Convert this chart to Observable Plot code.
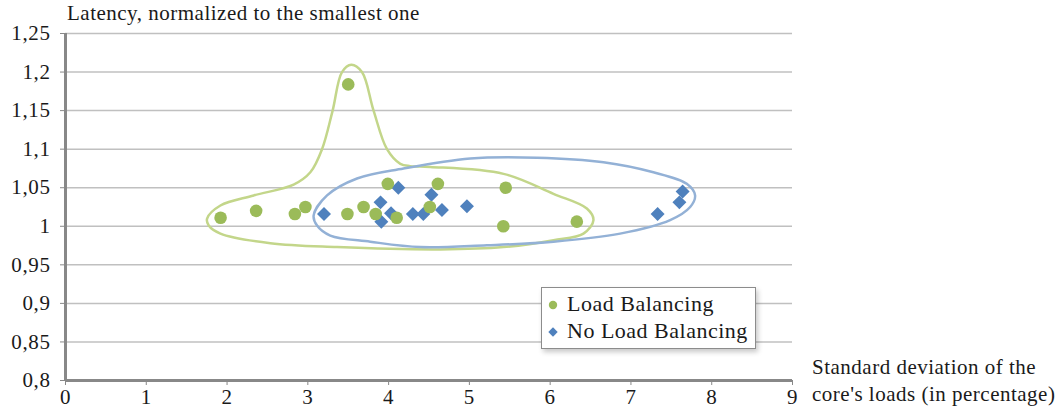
<!DOCTYPE html>
<html>
<head>
<meta charset="utf-8">
<script src="https://cdn.jsdelivr.net/npm/d3@7"></script>
<script src="https://cdn.jsdelivr.net/npm/@observablehq/plot@0.6"></script>
<style>
  body { margin: 0; background: #fff; }
  #wrap { position: relative; width: 1064px; height: 411px; font-family: "Liberation Serif", serif; color: #1a1a1a; }
  .t { position: absolute; font-size: 21px; line-height: 21px; letter-spacing: 0.5px; white-space: nowrap; }
  .legend { position: absolute; left: 541px; top: 287px; width: 215px; height: 62px; background: #fff;
            border: 1px solid #8c8c8c; box-shadow: 2px 3px 5px rgba(0,0,0,0.22); box-sizing: border-box; }
  .legend .item { position: absolute; left: 25px; font-size: 22px; line-height: 22px; letter-spacing: 0.5px; white-space: nowrap; }
  .legend svg { position: absolute; left: 3px; }
</style>
</head>
<body>
<div id="wrap"></div>
<script>
// ---- data ----
const xTicks = [0, 1, 2, 3, 4, 5, 6, 7, 8, 9];
const yTicks = [0.8, 0.85, 0.9, 0.95, 1, 1.05, 1.1, 1.15, 1.2, 1.25];
const yTickLabels = ["0,8", "0,85", "0,9", "0,95", "1", "1,05", "1,1", "1,15", "1,2", "1,25"];

const seriesNames = ["Load Balancing", "No Load Balancing"];

const lbX = [1.92, 2.36, 2.84, 2.97, 3.50, 3.49, 3.69, 3.84, 3.99, 4.10, 4.51, 4.61, 5.45, 5.42, 6.33];
const lbY = [1.011, 1.020, 1.016, 1.025, 1.184, 1.016, 1.025, 1.016, 1.055, 1.011, 1.025, 1.055, 1.050, 1.000, 1.006];

const nlbX = [3.20, 3.90, 3.91, 4.03, 4.12, 4.30, 4.43, 4.53, 4.66, 4.97, 7.33, 7.60, 7.64];
const nlbY = [1.016, 1.031, 1.006, 1.017, 1.050, 1.016, 1.016, 1.041, 1.021, 1.026, 1.016, 1.031, 1.045];

// hand-drawn annotation outlines (control points)
const greenLoopX = [1.753, 1.918, 2.330, 2.824, 3.031, 3.176, 3.307, 3.423, 3.538, 3.670, 3.814, 3.980, 4.145, 4.268, 4.515, 5.423, 6.041, 6.454, 6.536, 6.412, 6.041, 5.423, 4.639, 3.361, 2.536, 1.918, 1.773];
const greenLoopY = [1.010, 1.027, 1.040, 1.054, 1.070, 1.100, 1.150, 1.200, 1.2095, 1.200, 1.150, 1.100, 1.081, 1.078, 1.077, 1.068, 1.042, 1.023, 1.008, 0.9905, 0.982, 0.973, 0.970, 0.973, 0.978, 0.9905, 1.001];

const blueLoopX = [3.072, 3.238, 3.609, 4.185, 5.011, 5.836, 6.660, 7.278, 7.691, 7.794, 7.733, 7.485, 6.866, 6.041, 5.217, 4.392, 3.773, 3.278, 3.114];
const blueLoopY = [1.014, 1.040, 1.062, 1.075, 1.088, 1.089, 1.083, 1.070, 1.055, 1.040, 1.025, 1.008, 0.9905, 0.980, 0.9754, 0.973, 0.980, 0.988, 1.001];

// ---- build ----
const lb = lbX.map((x, i) => ({x, y: lbY[i]}));
const nlb = nlbX.map((x, i) => ({x, y: nlbY[i]}));
const gLoop = greenLoopX.map((x, i) => ({x, y: greenLoopY[i]}));
const bLoop = blueLoopX.map((x, i) => ({x, y: blueLoopY[i]}));
const yLabelOf = v => yTickLabels[yTicks.findIndex(t => Math.abs(t - v) < 1e-9)];

const GREEN = "#9bbb59", BLUE = "#4f81bd", AXIS = "#888888";

const chart = Plot.plot({
  width: 1064, height: 411,
  marginLeft: 65, marginRight: 272, marginTop: 33, marginBottom: 31,
  x: {domain: [0, 9]},
  y: {domain: [0.8, 1.25]},
  style: {fontFamily: "'Liberation Serif', serif", fontSize: "21px", letterSpacing: "0.6px", color: "#1a1a1a", background: "transparent", overflow: "visible"},
  marks: [
    Plot.ruleY(yTicks.filter(d => d > 0.8), {stroke: "#c0c0c0", strokeWidth: 1.5}),
    Plot.axisY({ticks: yTicks, tickFormat: yLabelOf, tickSize: 5, tickPadding: 10, stroke: AXIS, label: null, fontSize: 21}),
    Plot.axisX({ticks: xTicks, tickSize: 5, tickPadding: 4, stroke: AXIS, label: null, fontSize: 21}),
    Plot.ruleX([0], {stroke: AXIS, strokeWidth: 3}),
    Plot.ruleY([0.8], {stroke: AXIS, strokeWidth: 3}),
    Plot.dot(nlb, {x: "x", y: "y", symbol: "diamond2", r: 6.3, fill: BLUE}),
    Plot.dot(lb, {x: "x", y: "y", r: 6.3, fill: GREEN}),
    Plot.line(gLoop, {x: "x", y: "y", curve: "catmull-rom-closed", stroke: "#c3d68a", strokeWidth: 2.5}),
    Plot.line(bLoop, {x: "x", y: "y", curve: "catmull-rom-closed", stroke: "#93b1d6", strokeWidth: 2.5})
  ]
});

const wrap = document.getElementById("wrap");
wrap.appendChild(chart);

function addText(str, left, top) {
  const d = document.createElement("div");
  d.className = "t";
  d.style.left = left + "px";
  d.style.top = top + "px";
  d.textContent = str;
  wrap.appendChild(d);
}
addText("Latency, normalized to the smallest one", 67, 3);
addText("Standard deviation of the", 812, 357);
addText("core's loads (in percentage)", 812, 384);

const lg = document.createElement("div");
lg.className = "legend";
lg.innerHTML =
  `<svg width="16" height="16" style="top:9px"><circle cx="8" cy="8" r="4.2" fill="${GREEN}"/></svg>` +
  `<div class="item" style="top:5px">${seriesNames[0]}</div>` +
  `<svg width="16" height="16" style="top:36px"><path d="M8 3.3 L12.7 8 L8 12.7 L3.3 8 Z" fill="${BLUE}"/></svg>` +
  `<div class="item" style="top:32px">${seriesNames[1]}</div>`;
wrap.appendChild(lg);
</script>
</body>
</html>
